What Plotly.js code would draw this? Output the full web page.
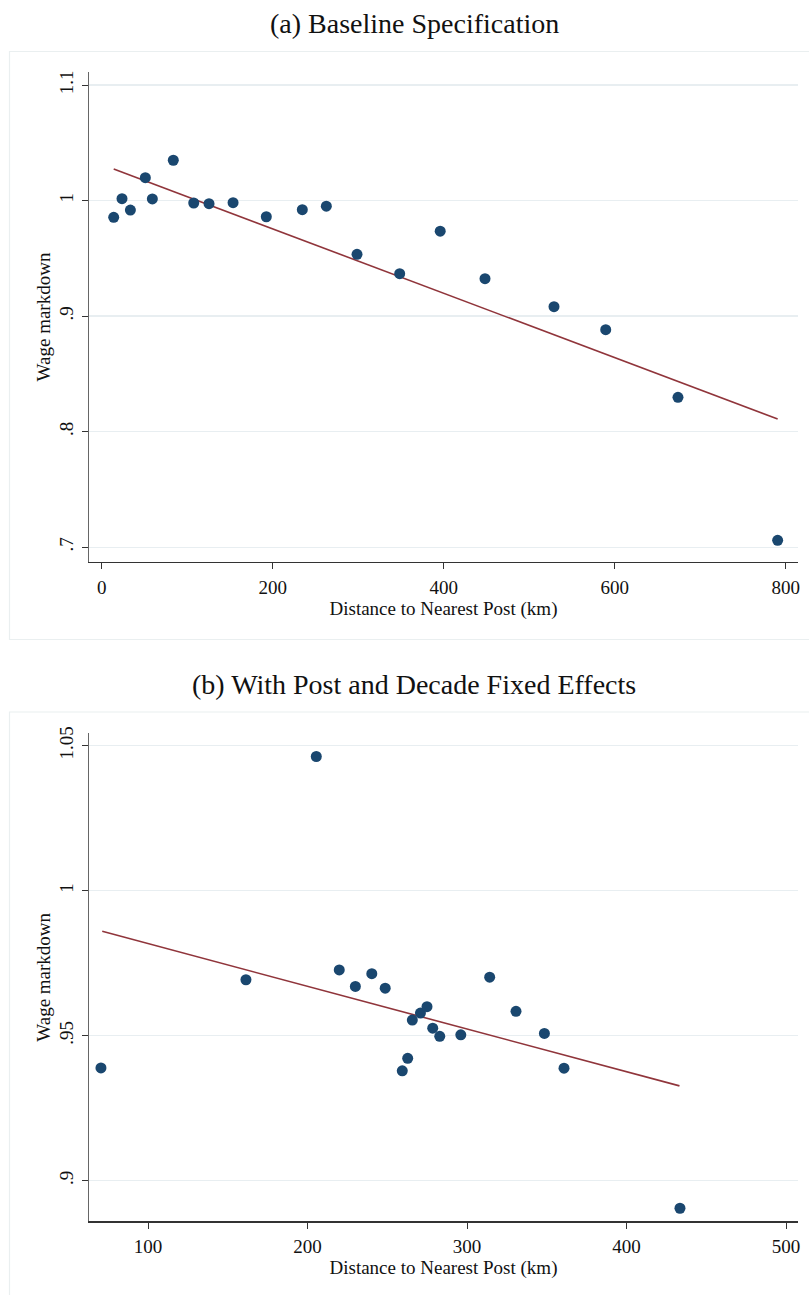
<!DOCTYPE html>
<html>
<head>
<meta charset="utf-8">
<script src="https://cdn.plot.ly/plotly-3.0.1.min.js"></script>
<style>
  html, body { margin: 0; padding: 0; background: #ffffff; }
  #chart { width: 809px; height: 1295px; }
</style>
</head>
<body>
<div id="chart"></div>
<script>
// Panel (a): binned means, baseline specification
const distA = [14.0, 23.7, 33.5, 51.0, 59.2, 83.7, 107.6, 125.5, 153.6, 192.5,
               234.6, 262.7, 298.6, 348.5, 395.9, 448.3, 529.0, 589.5, 674.0, 790.6];
const markdownA = [0.9856, 1.0017, 0.9919, 1.0199, 1.0015, 1.0350, 0.9980, 0.9974, 0.9983, 0.9861,
                   0.9922, 0.9952, 0.9536, 0.9368, 0.9736, 0.9325, 0.9082, 0.8883, 0.8298, 0.7060];
// Linear fit endpoints, panel (a)
const fitDistA = [14.0, 790.6];
const fitMarkdownA = [1.0274, 0.8110];

// Panel (b): binned means with post and decade fixed effects
const distB = [70.5, 161.4, 205.5, 219.9, 230.0, 240.3, 248.7, 259.4, 262.8, 265.7,
               270.8, 274.9, 278.5, 282.9, 296.1, 314.2, 330.7, 348.5, 360.8, 433.5];
const markdownB = [0.9389, 0.9693, 1.0463, 0.9727, 0.9670, 0.9714, 0.9664, 0.9379, 0.9422, 0.9554,
                   0.9578, 0.9600, 0.9526, 0.9498, 0.9503, 0.9702, 0.9584, 0.9508, 0.9388, 0.8905];
// Linear fit endpoints, panel (b)
const fitDistB = [71.3, 433.2];
const fitMarkdownB = [0.9860, 0.9327];

// Tick values and labels
const xTicksA = [0, 200, 400, 600, 800];
const yTicksA = [0.7, 0.8, 0.9, 1.0, 1.1];
const yLabelsA = [".7", ".8", ".9", "1", "1.1"];
const xTicksB = [100, 200, 300, 400, 500];
const yTicksB = [0.9, 0.95, 1.0, 1.05];
const yLabelsB = [".9", ".95", "1", "1.05"];

const panelTitles = ["(a) Baseline Specification", "(b) With Post and Decade Fixed Effects"];
const xTitle = "Distance to Nearest Post (km)";
const yTitle = "Wage markdown";

const W = 809, H = 1295;
const SERIF = "Liberation Serif, Times New Roman, serif";
const NAVY = "#1a476f";
const MAROON = "#90353b";
const GRID = "#e8eef1";
const BOX = "#eaeff0";

const px = v => v / W;
const py = v => 1 - v / H;

function scatter(x, y, xa, ya) {
  return { x: x, y: y, xaxis: xa, yaxis: ya, type: "scatter", mode: "markers",
           marker: { color: NAVY, size: 11, line: { width: 0 } },
           hoverinfo: "x+y", showlegend: false, cliponaxis: false };
}
function fitLine(x, y, xa, ya) {
  return { x: x, y: y, xaxis: xa, yaxis: ya, type: "scatter", mode: "lines",
           line: { color: MAROON, width: 1.6 }, hoverinfo: "skip", showlegend: false };
}

const data = [
  fitLine(fitDistA, fitMarkdownA, "x", "y"),
  scatter(distA, markdownA, "x", "y"),
  fitLine(fitDistB, fitMarkdownB, "x2", "y2"),
  scatter(distB, markdownB, "x2", "y2")
];

function xAxis(range, ticks, anchor) {
  return {
    domain: [px(89), px(798)], anchor: anchor, range: range,
    tickmode: "array", tickvals: ticks, ticktext: ticks.map(String),
    ticks: "outside", ticklen: 6, tickwidth: 1, tickcolor: "#333",
    showline: true, linecolor: "#333", linewidth: 1.2,
    showgrid: false, zeroline: false,
    tickfont: { family: SERIF, size: 19, color: "#111" },
    ticklabelstandoff: 2,
    title: { text: xTitle, font: { family: SERIF, size: 19, color: "#111" }, standoff: 2 }
  };
}
function yAxis(range, ticks, labels, domain, anchor) {
  return {
    domain: domain, anchor: anchor, range: range,
    tickmode: "array", tickvals: ticks, ticktext: labels, tickangle: -90,
    ticks: "outside", ticklen: 6, tickwidth: 1, tickcolor: "#333",
    showline: true, linecolor: "#666", linewidth: 1.4,
    showgrid: true, gridcolor: GRID, gridwidth: 1.4, zeroline: false,
    tickfont: { family: SERIF, size: 19, color: "#111" },
    ticklabelstandoff: 1,
    title: { text: yTitle, font: { family: SERIF, size: 19, color: "#111" }, standoff: 0 }
  };
}

const layout = {
  width: W, height: H,
  margin: { l: 0, r: 0, t: 0, b: 0 },
  paper_bgcolor: "#ffffff", plot_bgcolor: "#ffffff",
  showlegend: false,
  xaxis: xAxis([-14.9, 814.4], xTicksA, "y"),
  yaxis: yAxis([0.6872, 1.1114], yTicksA, yLabelsA, [py(562), py(72)], "x"),
  xaxis2: xAxis([63.0, 507.5], xTicksB, "y2"),
  yaxis2: yAxis([0.886, 1.0543], yTicksB, yLabelsB, [py(1221.3), py(733.3)], "x2"),
  shapes: [
    { type: "rect", xref: "paper", yref: "paper", layer: "below",
      x0: px(9.5), x1: px(830), y0: py(639.5), y1: py(51.5),
      line: { color: BOX, width: 1.2 }, fillcolor: "rgba(0,0,0,0)" },
    { type: "rect", xref: "paper", yref: "paper", layer: "below",
      x0: px(9.5), x1: px(830), y0: py(1320), y1: py(712),
      line: { color: BOX, width: 1.2 }, fillcolor: "rgba(0,0,0,0)" }
  ],
  annotations: [
    { text: panelTitles[0], xref: "paper", yref: "paper", x: px(414), y: py(24),
      xanchor: "center", yanchor: "middle", showarrow: false,
      font: { family: SERIF, size: 28, color: "#111" } },
    { text: panelTitles[1], xref: "paper", yref: "paper", x: px(414), y: py(684),
      xanchor: "center", yanchor: "middle", showarrow: false,
      font: { family: SERIF, size: 28, color: "#111" } }
  ]
};

Plotly.newPlot("chart", data, layout, { displayModeBar: false, staticPlot: true });
</script>
</body>
</html>
